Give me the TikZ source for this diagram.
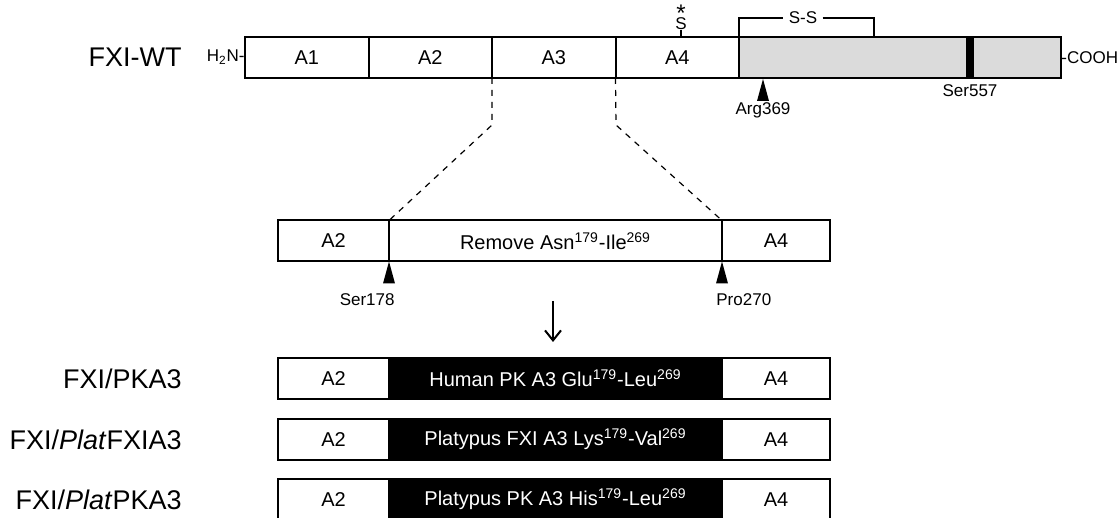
\documentclass[tikz,border=0pt]{standalone}
\usepackage{fontspec}
\setmainfont{Liberation Sans}
\usepackage{xcolor}
\usepackage{tikz}
\usetikzlibrary{arrows.meta,positioning}

\definecolor{hcgray}{gray}{0.86}
\newcommand{\cutmark}[1]{\fill #1 -- ++(6,22) -- ++(-12,0) -- cycle;}

\begin{document}
\begin{tikzpicture}[
    x=0.5pt, y=-0.5pt,
    dom/.style={rectangle, draw, line width=1pt, minimum height=20.5pt, inner sep=0pt, outer sep=0pt, font=\fontsize{10}{11}\selectfont},
    blk/.style={dom, fill=black, text=white},
    hvy/.style={dom, fill=hcgray},
    lbl/.style={inner sep=0pt, font=\fontsize{8.5}{9}\selectfont},
    rowlbl/.style={inner sep=0pt, anchor=east, font=\fontsize{13.5}{15}\selectfont},
    link/.style={dashed, line width=0.6pt},
    arrow/.style={-{Straight Barb[length=5pt,width=8pt]}, line width=1pt}
]
    \useasboundingbox (0,0) rectangle (1120,518);

    % wild type
    \node[rowlbl] (wt) at (182,57.5) {FXI-WT};
    \node[dom, minimum width=61.75pt] (a1) at (306.75,57.5) {A1};
    \node[dom, minimum width=61.75pt, right=0pt of a1] (a2) {A2};
    \node[dom, minimum width=61.75pt, right=0pt of a2] (a3) {A3};
    \node[dom, minimum width=61.75pt, right=0pt of a3] (a4) {A4};
    \node[hvy, minimum width=161pt, right=0pt of a4] (hc) {};
    \node[lbl, anchor=east] (nterm) at (a1.west) {H\textsubscript{2}N-};
    \node[lbl, anchor=west] (cterm) at (hc.east) {-COOH};
    \node[fill=black, minimum width=4pt, minimum height=20.5pt, inner sep=0pt] (s557) at (970,57.5) {};
    \node[lbl] (s557l) at (970,91) {Ser557};
    \coordinate (r369) at (763,79);
    \cutmark{(r369)}
    \node[lbl] (r369l) at (763,110) {Arg369};

    % free cysteine and disulfide
    \node[lbl] (cys) at (681,24) {S};
    \node[lbl, font=\fontsize{12}{12}\selectfont, anchor=south] (ast) at ([yshift=1pt]cys.north) {\raisebox{-0.28em}[0.44em][0pt]{*}};
    \draw[line width=1pt] (cys.south) -- (cys.south |- a4.north);
    \node[lbl, inner sep=2.5pt] (ss) at (803,18) {S-S};
    \coordinate (ssr) at (874,37.5);
    \draw[line width=1pt] (hc.north west) |- (ss.west);
    \draw[line width=1pt] (ss.east) -| (ssr);

    % deletion construct
    \node[dom, minimum width=55.5pt] (m2) at (333.5,241) {A2};
    \node[dom, minimum width=166.5pt, right=0pt of m2] (mrm) {Remove Asn\textsuperscript{179}-Ile\textsuperscript{269}};
    \node[dom, minimum width=54pt, right=0pt of mrm] (m4) {A4};
    \coordinate (k3) at (492,125);
    \coordinate (k4) at (616,125);
    \draw[link] (a3.south west) -- (k3) -- (mrm.north west);
    \draw[link] (a4.south west) -- (k4) -- (mrm.north east);
    \cutmark{(mrm.south west)}
    \cutmark{(mrm.south east)}
    \node[lbl, anchor=east] (s178) at (395,300) {Ser178};
    \node[lbl, anchor=west] (p270) at (716,300) {Pro270};

    \coordinate (dn) at (553,301);

    % chimeras
    \foreach \i/\yy/\lab/\txt in {
        1/378.5/{FXI/PKA3}/{Human PK A3 Glu\textsuperscript{179}-Leu\textsuperscript{269}},
        2/439.5/{FXI/\textit{Plat}FXIA3}/{Platypus FXI A3 Lys\textsuperscript{179}-Val\textsuperscript{269}},
        3/499.5/{FXI/\textit{Plat}PKA3}/{Platypus PK A3 His\textsuperscript{179}-Leu\textsuperscript{269}}}{
        \node[rowlbl] (r\i l) at (182,\yy) {\lab};
        \node[dom, minimum width=55.5pt] (r\i a) at (333.5,\yy) {A2};
        \node[blk, minimum width=166.5pt, right=0pt of r\i a] (r\i b) {\txt};
        \node[dom, minimum width=54pt, right=0pt of r\i b] (r\i c) {A4};
    }

    \draw[arrow, shorten >=8pt] (dn) -- (dn |- r1b.north);
\end{tikzpicture}
\end{document}
